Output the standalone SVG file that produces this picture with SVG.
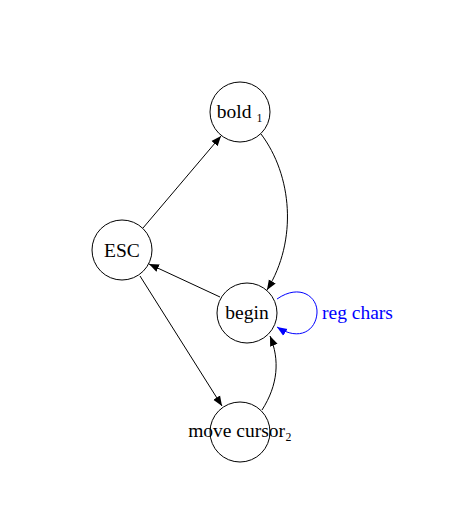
<svg xmlns="http://www.w3.org/2000/svg" width="473" height="526" viewBox="0 0 473 526">
<style>
.n{fill:#fff;stroke:#000;stroke-width:1}
.t{font-family:"Liberation Serif","DejaVu Serif",serif;font-size:19.5px;fill:#000;text-anchor:middle}
.e{fill:none;stroke:#000;stroke-width:1}
.b{fill:none;stroke:#00f;stroke-width:1}
</style>
<defs>
<marker id="a" viewBox="0 0 10 10" refX="10" refY="5" markerWidth="10" markerHeight="10" markerUnits="userSpaceOnUse" orient="auto"><path d="M0,1 L10,5 L0,9 Z" fill="#000"/></marker>
<marker id="ab" viewBox="0 0 10 10" refX="10" refY="5" markerWidth="10" markerHeight="10" markerUnits="userSpaceOnUse" orient="auto"><path d="M0,1 L10,5 L0,9 Z" fill="#00f"/></marker>
</defs>
<rect width="473" height="526" fill="#fff"/>
<g id="connectors">
<path class="e" d="M143,228 L221,136" marker-end="url(#a)"/>
<path class="e" d="M261,134 C292,175 298,240 267,290" marker-end="url(#a)"/>
<path class="e" d="M220,297 L149,264" marker-end="url(#a)"/>
<path class="e" d="M140,276 L222,406" marker-end="url(#a)"/>
<path class="e" d="M262,410 C278,385 280,360 270,336" marker-end="url(#a)"/>
<path class="b" d="M277,299 C300,283 318,297 317,313 C316,330 300,342 277,327" marker-end="url(#ab)"/>
</g>
<g id="bold"><circle class="n" cx="240" cy="112" r="30"/><text class="t" x="240" y="118">bold ₁</text></g>
<g id="esc"><circle class="n" cx="122" cy="250" r="30"/><text class="t" x="122" y="257">ESC</text></g>
<g id="begin"><circle class="n" cx="247" cy="313" r="30"/><text class="t" x="247" y="319">begin</text></g>
<g id="move"><circle class="n" cx="240" cy="432" r="30"/><text class="t" x="240" y="437">move cursor₂</text></g>
<text x="322" y="319" style="font-family:'Liberation Serif',serif;font-size:19.5px;fill:#00f">reg chars</text>
</svg>
